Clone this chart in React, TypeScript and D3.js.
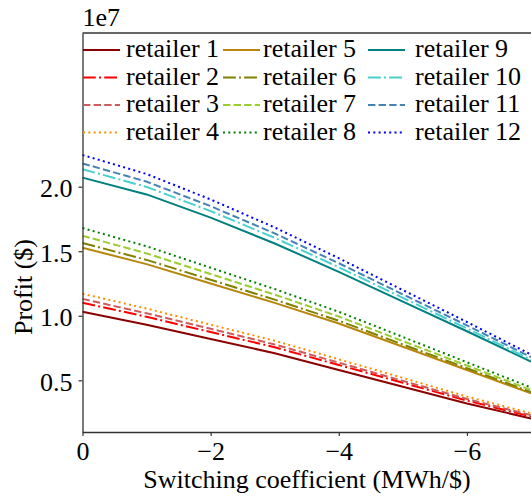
import { useEffect, useRef } from 'react';
import * as d3 from 'd3';

// switching coefficient (x) and profit per retailer, in units of 1e7 $
const coeffs = [0, -1, -2, -3, -4, -5, -6, -7];

const retailer1 = [1.031, 0.93, 0.82, 0.71, 0.58, 0.45, 0.32, 0.205];
const retailer2 = [1.101, 0.992, 0.874, 0.756, 0.619, 0.481, 0.343, 0.22];
const retailer3 = [1.131, 1.019, 0.899, 0.778, 0.637, 0.496, 0.356, 0.23];
const retailer4 = [1.171, 1.056, 0.931, 0.807, 0.663, 0.519, 0.374, 0.245];
const retailer5 = [1.527, 1.4, 1.25, 1.1, 0.94, 0.76, 0.58, 0.4];
const retailer6 = [1.564, 1.433, 1.279, 1.125, 0.962, 0.778, 0.594, 0.41];
const retailer7 = [1.62, 1.483, 1.324, 1.164, 0.994, 0.804, 0.615, 0.425];
const retailer8 = [1.68, 1.538, 1.372, 1.207, 1.031, 0.836, 0.64, 0.445];
const retailer9 = [2.07, 1.94, 1.76, 1.56, 1.34, 1.11, 0.88, 0.645];
const retailer10 = [2.135, 1.998, 1.811, 1.604, 1.376, 1.139, 0.902, 0.66];
const retailer11 = [2.18, 2.039, 1.849, 1.638, 1.407, 1.166, 0.926, 0.68];
const retailer12 = [2.245, 2.098, 1.901, 1.684, 1.446, 1.199, 0.952, 0.7];

const names = [
  'retailer 1', 'retailer 2', 'retailer 3', 'retailer 4',
  'retailer 5', 'retailer 6', 'retailer 7', 'retailer 8',
  'retailer 9', 'retailer 10', 'retailer 11', 'retailer 12',
];
const values = [
  retailer1, retailer2, retailer3, retailer4,
  retailer5, retailer6, retailer7, retailer8,
  retailer9, retailer10, retailer11, retailer12,
];
const colors = [
  '#8b0000', '#ff0000', '#cd5c5c', '#ff8c00',
  '#b8860b', '#808000', '#9acd32', '#008000',
  '#008080', '#48d1cc', '#4682b4', '#0000ff',
];
const styles = ['solid', 'dashdot', 'dashed', 'dotted'];
const xTicks = [0, -2, -4, -6];
const yTicks = [0.5, 1.0, 1.5, 2.0];

const dashFor = (s: string) => {
  if (s === 'dashed') return '7.4,3.2';
  if (s === 'dashdot') return '12.8,3.2,2,3.2';
  if (s === 'dotted') return '2,3.3';
  return null;
};

const FONT = "'Times New Roman', 'Liberation Serif', Tinos, Times, serif";

export default function App() {
  const ref = useRef<SVGSVGElement>(null);

  useEffect(() => {
    const svg = d3.select(ref.current);
    svg.selectAll('*').remove();

    const left = 82.5, right = 531, top = 33, bottom = 432;
    const x = d3.scaleLinear().domain([0, -7]).range([left, right]);
    const y = d3.scaleLinear().domain([0.1, 3.19]).range([bottom, top]);

    const line = d3.line<number>()
      .x((_, i) => x(coeffs[i]))
      .y(d => y(d));

    values.forEach((v, i) => {
      svg.append('path')
        .datum(v)
        .attr('d', line)
        .attr('fill', 'none')
        .attr('stroke', colors[i])
        .attr('stroke-width', 2)
        .attr('stroke-dasharray', dashFor(styles[i % 4]));
    });

    // axes
    const xAxis = svg.append('g')
      .attr('transform', `translate(0,${bottom})`)
      .call(d3.axisBottom(x).tickValues(xTicks).tickFormat(d3.format('d'))
        .tickSize(4).tickPadding(5.5).tickSizeOuter(0));
    const yAxis = svg.append('g')
      .attr('transform', `translate(${left},0)`)
      .call(d3.axisLeft(y).tickValues(yTicks).tickFormat(d3.format('.1f'))
        .tickSize(4).tickPadding(6).tickSizeOuter(0));
    yAxis.selectAll('.tick text').attr('dy', '0.38em');

    [xAxis, yAxis].forEach(a => {
      a.attr('font-family', null).attr('font-size', null);
      a.select('.domain').attr('stroke', '#333').attr('stroke-width', 1.3);
      a.selectAll('.tick line').attr('stroke', '#333').attr('stroke-width', 1.2);
      a.selectAll('.tick text').attr('fill', '#000');
    });

    // top spine
    svg.append('line')
      .attr('x1', left).attr('x2', right)
      .attr('y1', top).attr('y2', top)
      .attr('stroke', '#333').attr('stroke-width', 1.3);

    svg.append('text')
      .attr('x', left).attr('y', 26)
      .text('1e7');

    svg.append('text')
      .attr('x', 307).attr('y', 488)
      .attr('text-anchor', 'middle')
      .text('Switching coefficient (MWh/$)');

    svg.append('text')
      .attr('transform', 'translate(32,287) rotate(-90)')
      .attr('text-anchor', 'middle')
      .text('Profit ($)');

    // legend, 3 columns of 4 rows
    const colHandle = [83, 223, 368];
    const colText = [126, 263, 415];
    const rowY = [50, 77.5, 105, 132.5];
    names.forEach((n, i) => {
      const c = Math.floor(i / 4), r = i % 4;
      const g = svg.append('g');
      g.append('line')
        .attr('x1', colHandle[c]).attr('x2', colHandle[c] + 37)
        .attr('y1', rowY[r]).attr('y2', rowY[r])
        .attr('stroke', colors[i])
        .attr('stroke-width', 2)
        .attr('stroke-dasharray', dashFor(styles[r]));
      g.append('text')
        .attr('x', colText[c]).attr('y', rowY[r] + 7)
        .text(n);
    });
  }, []);

  return (
    <svg ref={ref} width={531} height={497}
      style={{ position: 'absolute', left: 0, top: 0, background: '#fff',
        fontFamily: FONT, fontSize: 26 }} />
  );
}
